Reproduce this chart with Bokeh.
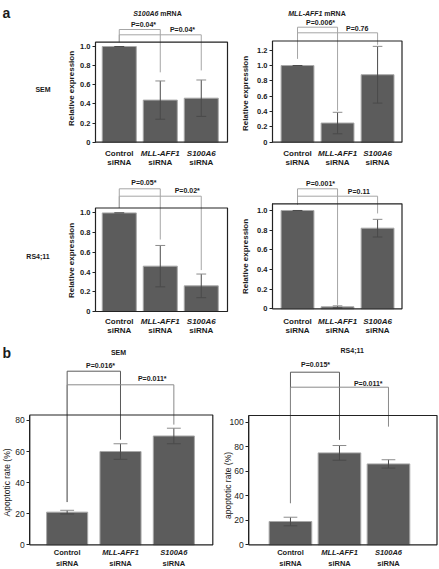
import math
from bokeh.plotting import figure
from bokeh.models import LinearAxis, FixedTicker, PrintfTickFormatter, ColumnDataSource, Range1d
from bokeh.layouts import column, row
from bokeh.embed import file_html
from bokeh.resources import INLINE
from bokeh.core.properties import value

FONT = "Liberation Sans"

# ---------------- data ----------------
categories = ["Control", "MLL-AFF1", "S100A6"]
cat_line2 = ["siRNA", "siRNA", "siRNA"]
cat_styles = ["bold", "bold italic", "bold italic"]

# panel a : relative expression
sem_s100a6_mean = [1.00, 0.44, 0.46]
sem_s100a6_err = [0.00, 0.20, 0.19]
sem_mll_mean = [1.00, 0.25, 0.88]
sem_mll_err = [0.00, 0.14, 0.37]
rs_s100a6_mean = [1.00, 0.46, 0.26]
rs_s100a6_err = [0.00, 0.21, 0.12]
rs_mll_mean = [1.00, 0.02, 0.82]
rs_mll_err = [0.00, 0.01, 0.09]

# panel b : apoptotic rate (%)
sem_apop_mean = [21, 60, 70]
sem_apop_err = [1.2, 5, 5]
rs_apop_mean = [19, 75, 66]
rs_apop_err = [3.5, 6, 3.4]

# p-values (control vs MLL-AFF1, control vs S100A6)
p_sem_s100a6 = ["P=0.04*", "P=0.04*"]
p_sem_mll = ["P=0.006*", "P=0.76"]
p_rs_s100a6 = ["P=0.05*", "P=0.02*"]
p_rs_mll = ["P=0.001*", "P=0.11"]
p_sem_apop = ["P=0.016*", "P=0.011*"]
p_rs_apop = ["P=0.015*", "P=0.011*"]

ticks_rel_a = [0, 0.2, 0.4, 0.6, 0.8, 1.0]
ticks_rel_b = [0, 0.2, 0.4, 0.6, 0.8, 1.0, 1.2]
ticks_apop_a = [0, 20, 40, 60, 80]
ticks_apop_b = [0, 20, 40, 60, 80, 100]

BAR_FILL = "#5c5c5c"
BAR_LINE = "#a8a8a8"
TXT = "#1a1a1a"


def build(s):
    fx0, fy0, W, H = s["fig"]
    bl, br = s["box_px"]
    bt, bb = s["box_py"]
    dx0, dx1 = s["box_dx"]
    ytop = s["ytop"]
    ppx = (br - bl) / (dx1 - dx0)
    ppy = (bb - bt) / ytop
    xs = dx0 - (bl - fx0) / ppx
    xe = xs + W / ppx
    ye = ytop + (bt - fy0) / ppy
    ys = ye - H / ppy

    def X(rx):
        return xs + (rx - fx0) / ppx

    def Y(ry):
        return ye - (ry - fy0) / ppy

    p = figure(width=W, height=H, x_range=Range1d(xs, xe), y_range=Range1d(ys, ye),
               x_axis_location=None, y_axis_location=None, toolbar_location=None,
               output_backend="svg", min_border=0, outline_line_color=None, title=None)
    p.grid.visible = False

    mean, err = s["mean"], s["err"]
    idx = list(range(len(mean)))
    cap = s["cap"]
    src = ColumnDataSource(dict(
        x=idx, top=mean,
        lo=[m - e for m, e in zip(mean, err)],
        hi=[m + e for m, e in zip(mean, err)],
        cl=[i - cap for i in idx], cr=[i + cap for i in idx]))
    p.vbar(x="x", top="top", bottom=0, width=s["bw"], source=src,
           fill_color=BAR_FILL, line_color=BAR_LINE, line_width=1)
    p.segment(x0="x", y0="lo", x1="x", y1="hi", source=src, line_color="#4a4a4a", line_width=1)
    p.segment(x0="cl", y0="hi", x1="cr", y1="hi", source=src, line_color="#8c8c8c", line_width=1)
    p.segment(x0="cl", y0="lo", x1="cr", y1="lo", source=src, line_color="#4a4a4a", line_width=1)

    # significance brackets
    bxs, bys, bcol = [], [], []
    for (i, j, hy, lb, rb, col) in s["brackets"]:
        bxs.append([i, i, j, j])
        bys.append([lb, Y(hy), Y(hy), rb])
        bcol.append(col)
    p.multi_line(xs=bxs, ys=bys, line_color=bcol, line_width=1)

    # frame box
    p.quad(left=[dx0], right=[dx1], bottom=[0], top=[ytop], fill_color=None,
           line_color="#222222", line_width=1.2)

    ax = LinearAxis(fixed_location=dx0, bounds=(0, ytop),
                    ticker=FixedTicker(ticks=s["ticks"], minor_ticks=[]),
                    formatter=PrintfTickFormatter(format=s["fmt"]),
                    major_label_overrides={0: "0"},
                    major_tick_in=0, major_tick_out=3, minor_tick_line_color=None,
                    axis_line_color="#222222", major_tick_line_color="#222222",
                    major_label_standoff=2, major_label_text_font=FONT,
                    major_label_text_font_size=s["tick_fs"],
                    major_label_text_font_style=s["tick_style"],
                    major_label_text_color=TXT)
    p.add_layout(ax, "left")

    # p-value labels
    for txt, (rx, ry) in zip(s["ptext"], s["ppos"]):
        p.text(x=[X(rx)], y=[Y(ry)], text=[txt], text_font=value(FONT), text_font_size="7px",
               text_font_style="bold", text_align="center", text_baseline="middle", text_color=TXT)

    # category labels
    l1y, l2y, cfs = s["xlab"]
    p.text(x=idx, y=[Y(l1y)] * 3, text=categories, text_font=value(FONT), text_font_size=cfs,
           text_font_style=cat_styles, text_align="center", text_baseline="middle", text_color=TXT)
    p.text(x=idx, y=[Y(l2y)] * 3, text=cat_line2, text_font=value(FONT), text_font_size=cfs,
           text_font_style="bold", text_align="center", text_baseline="middle", text_color=TXT)

    # y axis label
    ylt, (yx, yy), yfs, ystyle = s["ylabel"]
    p.text(x=[X(yx)], y=[Y(yy)], text=[ylt], angle=math.pi / 2, text_font=value(FONT),
           text_font_size=yfs, text_font_style=ystyle, text_align="center",
           text_baseline="middle", text_color=TXT)

    # extra texts (titles, row labels, panel letters)
    for (txt, rx, ry, fs, style, align) in s["texts"]:
        p.text(x=[X(rx)], y=[Y(ry)], text=[txt], text_font=value(FONT), text_font_size=fs,
               text_font_style=style, text_align=align, text_baseline="middle", text_color=TXT)
    return p


LB = "#a6a6a6"
spec_a1 = dict(fig=(0, 0, 232, 172), box_px=(95, 227), box_py=(41.7, 141.7), box_dx=(-0.58, 2.64),
               ytop=1.045, mean=sem_s100a6_mean, err=sem_s100a6_err, bw=0.83, cap=0.12,
               ticks=ticks_rel_a, fmt="%.1f", tick_fs="7.5px", tick_style="bold",
               brackets=[(0, 1, 29, 1.045, 0.73, LB), (0, 2, 34.3, 1.045, 0.75, LB)],
               ptext=p_sem_s100a6, ppos=[(143, 24), (182, 29)],
               xlab=(152.7, 161.7, "8px"),
               ylabel=("Relative expression", (71, 88), "8px", "bold"),
               texts=[("a", 2, 12, "14px", "bold", "left"),
                      ("S100A6", 158, 13, "7px", "bold italic", "right"),
                      ("mRNA", 159.8, 13, "7px", "bold", "left"),
                      ("SEM", 42.5, 89, "7px", "bold", "center")])

spec_a2 = dict(fig=(232, 0, 206, 172), box_px=(272, 401.5), box_py=(40.5, 141.7), box_dx=(-0.625, 2.61),
               ytop=1.32, mean=sem_mll_mean, err=sem_mll_err, bw=0.82, cap=0.12,
               ticks=ticks_rel_b, fmt="%.1f", tick_fs="7.5px", tick_style="bold",
               brackets=[(0, 1, 26.7, 1.09, 0.41, LB), (0, 2, 32.3, 1.09, 1.27, LB)],
               ptext=p_sem_mll, ppos=[(320, 21.7), (356.7, 28.3)],
               xlab=(152.7, 161.7, "8px"),
               ylabel=("Relative expression", (245, 93), "8px", "bold"),
               texts=[("MLL-AFF1", 322, 13, "7px", "bold italic", "right"),
                      ("mRNA", 323.8, 13, "7px", "bold", "left")])

spec_a3 = dict(fig=(0, 172, 232, 165), box_px=(95, 227), box_py=(207.5, 311), box_dx=(-0.58, 2.64),
               ytop=1.05, mean=rs_s100a6_mean, err=rs_s100a6_err, bw=0.83, cap=0.12,
               ticks=ticks_rel_a, fmt="%.1f", tick_fs="7.5px", tick_style="bold",
               brackets=[(0, 1, 188.3, 1.05, 0.73, LB), (0, 2, 195.7, 1.05, 0.42, LB)],
               ptext=p_rs_s100a6, ppos=[(143.3, 182.3), (186.7, 190)],
               xlab=(320.7, 330.3, "8px"),
               ylabel=("Relative expression", (71, 260), "8px", "bold"),
               texts=[("RS4;11", 37.5, 256, "7px", "bold", "center")])

spec_a4 = dict(fig=(232, 172, 206, 165), box_px=(272, 401.5), box_py=(203.3, 308.3), box_dx=(-0.625, 2.61),
               ytop=1.068, mean=rs_mll_mean, err=rs_mll_err, bw=0.82, cap=0.12,
               ticks=ticks_rel_a, fmt="%.1f", tick_fs="7.5px", tick_style="bold",
               brackets=[(0, 1, 188.3, 1.06, 0.04, LB), (0, 2, 195.7, 1.06, 0.97, LB)],
               ptext=p_rs_mll, ppos=[(320, 183.3), (358.3, 191)],
               xlab=(320.7, 330.3, "8px"),
               ylabel=("Relative expression", (245, 256), "8px", "bold"),
               texts=[])

spec_b1 = dict(fig=(0, 337, 218, 231), box_px=(29.3, 212.3), box_py=(414.5, 544.3), box_dx=(-0.70, 2.73),
               ytop=83.5, mean=sem_apop_mean, err=sem_apop_err, bw=0.77, cap=0.13,
               ticks=ticks_apop_a, fmt="%d", tick_fs="8.5px", tick_style="normal",
               brackets=[(0, 1, 370.7, 27.5, 67.6, "#5a5a5a"), (0, 2, 384.3, 27.5, 77.3, "#8a8a8a")],
               ptext=p_sem_apop, ppos=[(100, 365), (151.7, 378.3)],
               xlab=(551.7, 562.5, "7.5px"),
               ylabel=("Apoptotic rate (%)", (6.5, 482), "8.5px", "normal"),
               texts=[("b", 2, 352, "14px", "bold", "left"),
                      ("SEM", 118, 351.7, "7px", "bold", "center")])

spec_b2 = dict(fig=(218, 337, 220, 231), box_px=(248.3, 436.5), box_py=(415, 544.3), box_dx=(-0.85, 2.99),
               ytop=105.5, mean=rs_apop_mean, err=rs_apop_err, bw=0.87, cap=0.14,
               ticks=ticks_apop_b, fmt="%d", tick_fs="8.5px", tick_style="normal",
               brackets=[(0, 1, 371.7, 34, 85.6, "#5a5a5a"), (0, 2, 386.7, 34, 96.4, "#8a8a8a")],
               ptext=p_rs_apop, ppos=[(315, 364), (367.7, 382.7)],
               xlab=(551.7, 562.5, "7.5px"),
               ylabel=("apoptotic rate (%)", (227.7, 485), "8.5px", "normal"),
               texts=[("RS4;11", 351.7, 350, "7px", "bold", "center")])

layout = column(row(build(spec_a1), build(spec_a2)),
                row(build(spec_a3), build(spec_a4)),
                row(build(spec_b1), build(spec_b2)))

open("out.html", "w").write(file_html(layout, INLINE))
